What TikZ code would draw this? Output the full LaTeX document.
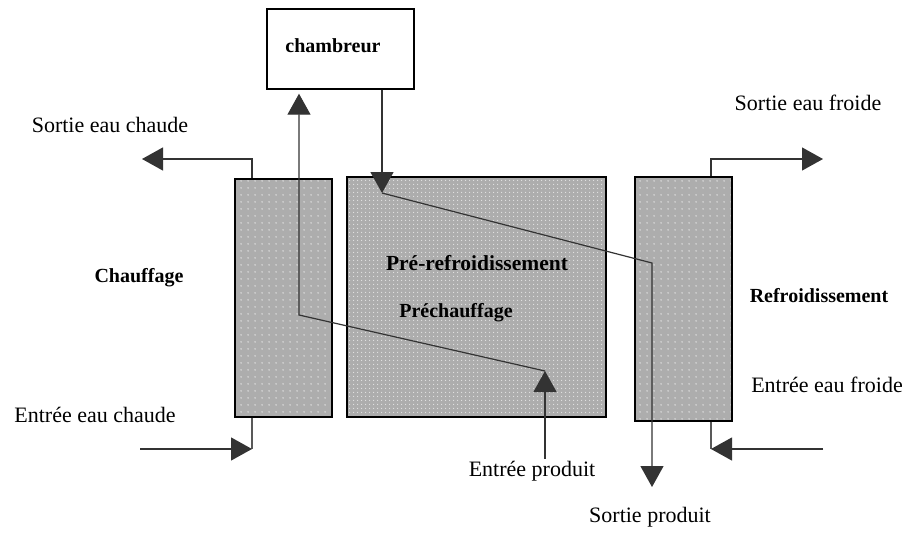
\documentclass[tikz,border=0pt]{standalone}
\usepackage{fontspec}
\setmainfont{Liberation Serif}
\usetikzlibrary{arrows.meta,patterns}
\pgfdeclarepatternformonly{sparsedots}{\pgfpointorigin}{\pgfpoint{7pt}{7pt}}{\pgfpoint{7pt}{7pt}}{\pgfpathcircle{\pgfpoint{3.5pt}{3.5pt}}{0.9pt}\pgfusepath{fill}}
\pgfdeclarepatternformonly{densedots}{\pgfpointorigin}{\pgfpoint{4pt}{4pt}}{\pgfpoint{4pt}{4pt}}{\pgfpathcircle{\pgfpoint{2pt}{2pt}}{0.7pt}\pgfusepath{fill}}
\begin{document}
\begin{tikzpicture}[x=1pt,y=-1pt,
  box/.style={draw=black, line width=1.4pt, preaction={fill=black!32}, pattern color=white!90!black, inner sep=0pt},
  arr/.style={draw=black!80, line width=1.2pt, -{Triangle[length=21pt,width=23pt]}},
  pipe/.style={draw=black!65, line width=1.4pt},
  lbl/.style={font=\fontsize{22}{26}\selectfont, inner sep=0pt},
  blbl/.style={font=\bfseries\fontsize{20}{24}\selectfont, inner sep=0pt}]
\useasboundingbox (0,0) rectangle (907,533);
\fill[white] (0,0) rectangle (907,533);
% boxes
\node[box, pattern=sparsedots, minimum width=97pt, minimum height=238pt] (lb) at (283.5,298) {};
\node[box, pattern=densedots, minimum width=259pt, minimum height=240pt] (mb) at (476.5,297) {};
\node[box, pattern=sparsedots, minimum width=97pt, minimum height=244pt] (rb) at (683.5,299) {};
\node[draw=black, line width=1.4pt, fill=white, minimum width=147pt, minimum height=80pt] (ch) at (340.5,49) {};
% labels
\node[blbl] (chl) at (333,46) {chambreur};
\node[lbl] (sec) at (110,125) {Sortie eau chaude};
\node[lbl] (eec) at (95,415) {Entrée eau chaude};
\node[lbl] (sef) at (808,103) {Sortie eau froide};
\node[lbl] (eef) at (827,385) {Entrée eau froide};
\node[lbl] (ep) at (532,471) {Entrée produit};
\node[lbl] (sp) at (650,517) {Sortie produit};
\node[blbl] (chf) at (139,278) {Chauffage};
\node[blbl, font=\bfseries\fontsize{21.5}{25}\selectfont] (prf) at (477,263) {Pré-refroidissement};
\node[blbl] (pch) at (456,313) {Préchauffage};
\node[blbl] (rfr) at (819,296) {Refroidissement};
% water connections
\coordinate (lbt) at (252,159);
\coordinate (sect) at (142,159);
\draw[arr] (lb.north -| lbt) -- (lbt) -- (sect);
\coordinate (ecb) at (252,449);
\coordinate (eci) at (140,449);
\draw[pipe] (lb.south -| ecb) -- (ecb);
\draw[arr] (eci) -- (ecb);
\coordinate (rbt) at (711,159);
\coordinate (seft) at (823,159);
\draw[arr] (rb.north -| rbt) -- (rbt) -- (seft);
\coordinate (efb) at (711,449);
\coordinate (efi) at (823,449);
\draw[pipe] (rb.south -| efb) -- (efb);
\draw[arr] (efi) -- (efb);
% product flow
\coordinate (p1) at (545,371);
\coordinate (p2) at (299,315);
\draw[arr, shorten <=2pt] (ep.north -| p1) -- (p1);
\draw[arr, shorten >=4pt] (p1) -- (p2) -- (ch.south -| p2);
\coordinate (q1) at (382,193);
\coordinate (q2) at (652,263);
\coordinate (q3) at (652,487);
\draw[arr] (ch.south -| q1) -- (q1);
\draw[arr] (q1) -- (q2) -- (q3);
\end{tikzpicture}
\end{document}
